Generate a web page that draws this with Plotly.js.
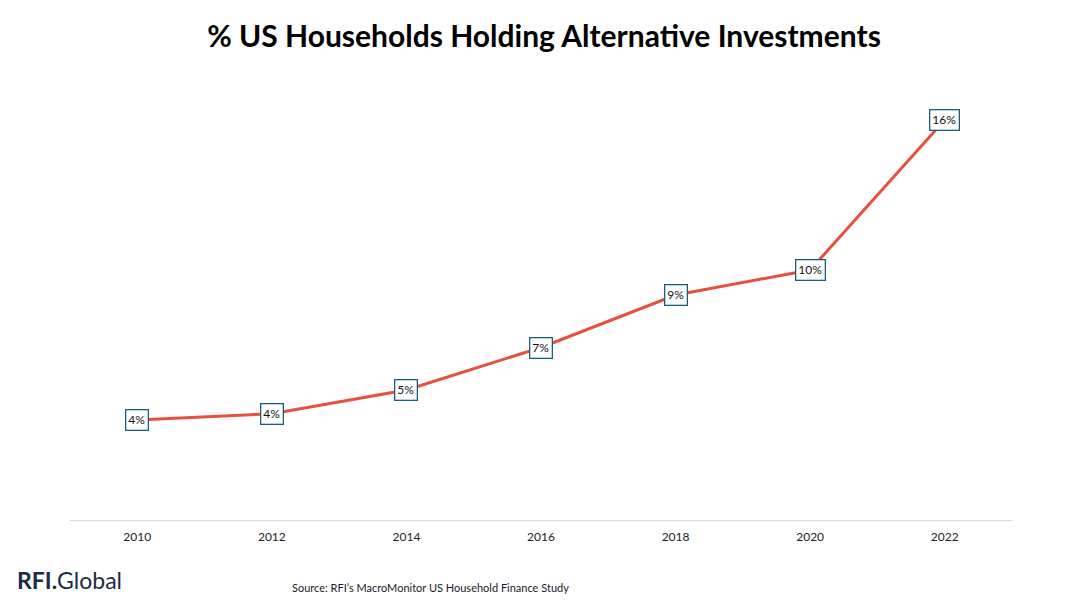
<!DOCTYPE html>
<html>
<head>
<meta charset="utf-8">
<script src="https://cdn.plot.ly/plotly-3.0.1.min.js"></script>
<style>
  html, body { margin: 0; padding: 0; background: #fff; }
  #chart { width: 1088px; height: 604px; }
</style>
</head>
<body>
<div id="chart"></div>
<script>
// Share of US households holding alternative investments (%)
const years = ['2010', '2012', '2014', '2016', '2018', '2020', '2022'];
const shares = [4.0, 4.25, 5.2, 6.9, 9.0, 10.0, 16.0];

const fontFamily = 'Lato, "Open Sans", sans-serif';

const trace = {
  x: years,
  y: shares,
  type: 'scatter',
  mode: 'lines',
  line: { color: '#e5513f', width: 3 },
  hoverinfo: 'skip'
};

// Boxed value labels centred on each point (category index on x)
const labels = years.map((yr, i) => ({
  x: i,
  y: shares[i],
  xref: 'x',
  yref: 'y',
  text: Math.round(shares[i]) + '%',
  showarrow: false,
  font: { family: fontFamily, size: 12, color: '#111' },
  bgcolor: '#ffffff',
  bordercolor: '#1b5e7b',
  borderwidth: 1.3,
  borderpad: 2,
  xanchor: 'center',
  yanchor: 'middle'
}));

const footer = [
  {
    xref: 'paper', yref: 'paper', x: -0.058, y: -0.133,
    xanchor: 'left', yanchor: 'middle', showarrow: false,
    text: '<b>RFI.</b>Global',
    font: { family: fontFamily, size: 23, color: '#1c2b45' }
  },
  {
    xref: 'paper', yref: 'paper', x: 0.234, y: -0.149,
    xanchor: 'left', yanchor: 'middle', showarrow: false,
    text: 'Source: RFI’s MacroMonitor US Household Finance Study',
    font: { family: fontFamily, size: 11, color: '#1a1a2a' }
  }
];

const layout = {
  width: 1088,
  height: 604,
  paper_bgcolor: '#ffffff',
  plot_bgcolor: '#ffffff',
  margin: { l: 70, r: 76, t: 70, b: 84 },
  showlegend: false,
  title: {
    text: '<b>% US Households Holding Alternative Investments</b>',
    font: { family: fontFamily, size: 30, color: '#000' },
    x: 0.5, xanchor: 'center',
    y: 0.94, yanchor: 'middle'
  },
  xaxis: {
    type: 'category',
    range: [-0.5, 6.5],
    showgrid: false,
    zeroline: false,
    showline: true,
    linecolor: '#d9d9d9',
    linewidth: 1,
    ticks: 'outside',
    ticklen: 6,
    tickcolor: 'rgba(0,0,0,0)',
    tickfont: { family: fontFamily, size: 12, color: '#222' },
    fixedrange: true
  },
  yaxis: {
    range: [0, 18],
    visible: false,
    showgrid: false,
    zeroline: false,
    fixedrange: true
  },
  annotations: labels.concat(footer)
};

Plotly.newPlot('chart', [trace], layout, { displayModeBar: false, staticPlot: true });
</script>
</body>
</html>
